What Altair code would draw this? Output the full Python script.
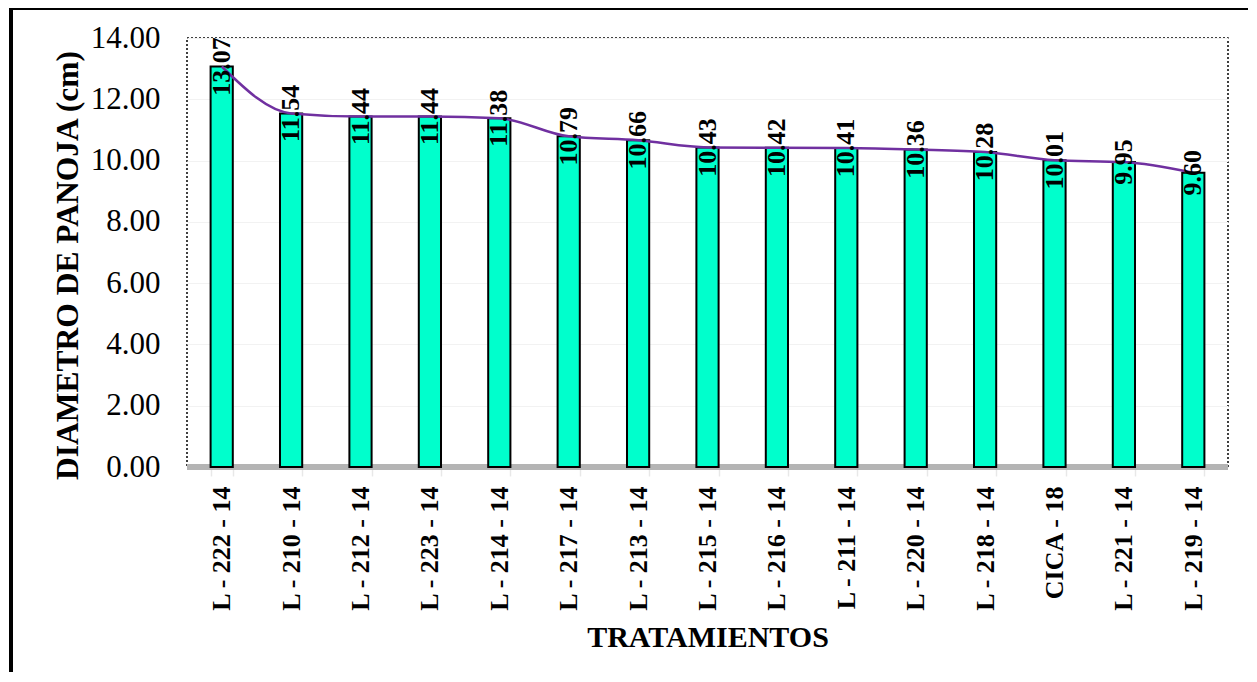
import altair as alt
import pandas as pd

tratamientos = ["L - 222 - 14", "L - 210 - 14", "L - 212 - 14", "L - 223 - 14", "L - 214 - 14",
                "L - 217 - 14", "L - 213 - 14", "L - 215 - 14", "L - 216 - 14", "L - 211 - 14",
                "L - 220 - 14", "L - 218 - 14", "CICA - 18", "L - 221 - 14", "L - 219 - 14"]
diametro = [13.07, 11.54, 11.44, 11.44, 11.38, 10.79, 10.66, 10.43, 10.42, 10.41,
            10.36, 10.28, 10.01, 9.95, 9.60]

df = pd.DataFrame({"trat": tratamientos, "val": diametro})
df["lab"] = df["val"].map(lambda v: f"{v:.2f}")

W, H = 1041, 429
SERIF = "'Liberation Serif', 'Times New Roman', Times, serif"

x_enc = alt.X("trat:N", sort=tratamientos,
              scale=alt.Scale(paddingInner=0.68, paddingOuter=0.34),
              axis=alt.Axis(title="TRATAMIENTOS", labelAngle=270, labelAlign="right",
                            labelBaseline="middle", labelFont=SERIF, labelFontSize=26,
                            labelFontWeight="bold", labelColor="black", labelPadding=10,
                            domain=False, ticks=True, tickBand="extent", tickColor="#e8e8e8",
                            tickSize=9, tickWidth=1.5,
                            titleFont=SERIF, titleFontSize=30, titleFontWeight="bold",
                            titleColor="black", titleX=W / 2, titleY=170,
                            titleAlign="center", titleBaseline="middle"))
y_enc = alt.Y("val:Q", scale=alt.Scale(domain=[0, 14], nice=False),
              axis=alt.Axis(title="DIAMETRO DE PANOJA (cm)", values=[0, 2, 4, 6, 8, 10, 12, 14],
                            format=".2f", labelFont=SERIF, labelFontSize=31, labelColor="black",
                            labelPadding=27, domain=False, ticks=False,
                            grid=True, gridColor="#f2f2f2", gridWidth=1,
                            titleFont=SERIF, titleFontSize=31.5, titleFontWeight="bold",
                            titleColor="black", titleAngle=270, titleX=-119, titleY=227,
                            titleAlign="center", titleBaseline="middle"))

base = alt.Chart(df)

frame = alt.Chart(df).mark_rect(fill=None, stroke="black", strokeWidth=3, clip=False).encode(
    x=alt.value(-176), x2=alt.value(1100), y=alt.value(-30), y2=alt.value(700))

floor = base.mark_rule(color="#b4b4b4", strokeWidth=6).encode(
    y=alt.datum(0), x=alt.value(0), x2=alt.value(W))

bars = base.mark_bar(color="#00FFCC", stroke="black", strokeWidth=2).encode(x=x_enc, y=y_enc)

line = base.mark_line(color="#7030A0", strokeWidth=2.5, interpolate="monotone").encode(
    x=alt.X("trat:N", sort=tratamientos), y=alt.Y("val:Q"))

labels = base.mark_text(angle=270, align="center", baseline="middle", font=SERIF,
                        fontSize=26, fontWeight="bold", color="black").encode(
    x=alt.X("trat:N", sort=tratamientos), y=alt.Y("val:Q"), text="lab:N")

chart = alt.layer(floor, bars, line, labels, frame).properties(
    width=W, height=H,
    background="white",
    autosize=alt.AutoSizeParams(type="none"),
    padding={"left": 179, "top": 30, "right": 20, "bottom": 205},
).configure_view(stroke="black", strokeDash=[2, 2], strokeWidth=1.5)

chart.save("out.html", embed_options={"renderer": "svg", "actions": False})
